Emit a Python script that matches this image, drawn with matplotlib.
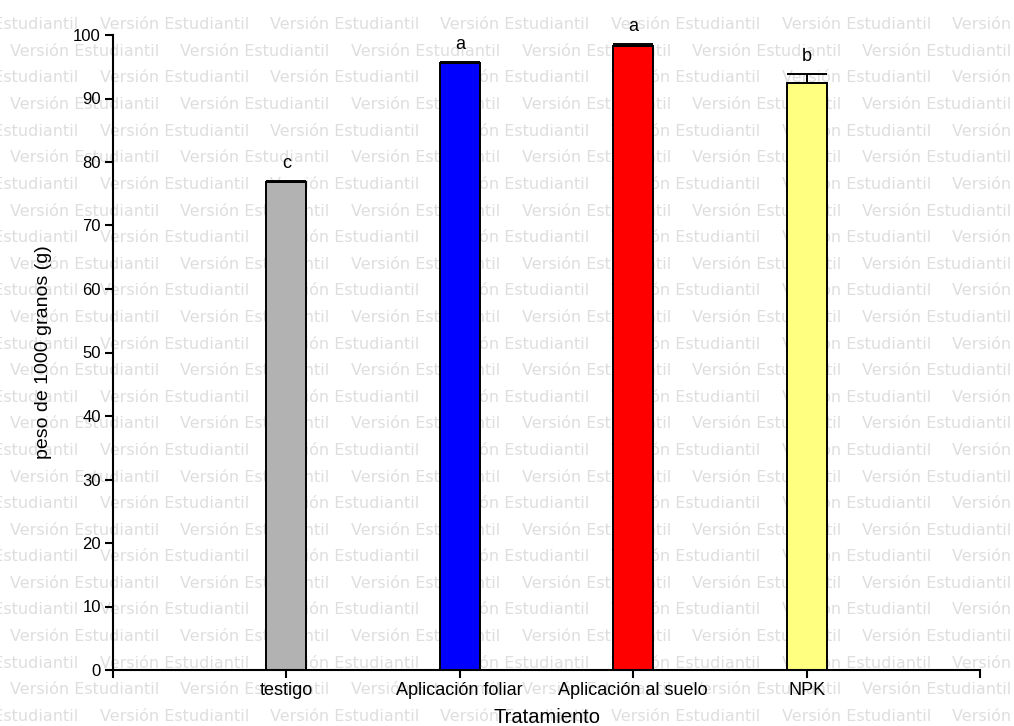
import matplotlib
matplotlib.use("Agg")
import matplotlib.pyplot as plt

plt.rcParams["font.family"] = ["Liberation Sans", "DejaVu Sans"]

# Peso de 1000 granos por tratamiento
tratamientos = ["testigo", "Aplicación foliar", "Aplicación al suelo", "NPK"]
peso_medio = [76.9, 95.6, 98.2, 92.5]
error_std = [0.1, 0.1, 0.35, 1.4]
letras = ["c", "a", "a", "b"]
colores = ["#b2b2b2", "#0000ff", "#ff0000", "#ffff80"]

W, H = 1014, 726
fig = plt.figure(figsize=(W / 100, H / 100), dpi=100)
fig.patch.set_facecolor("white")
ax = fig.add_axes([113 / W, 1 - 670 / H, (980 - 113) / W, (670 - 35) / H])
ax.set_facecolor("none")
ax.set_zorder(1)

# Marca de agua "Versión Estudiantil" en filas alternas
paso_x = 170.5
paso_y = 26.6
for fila in range(28):
    y = 29.3 + fila * paso_y
    x = 99.5 - paso_x if fila % 2 == 0 else 10
    while x < W:
        fig.text(x / W, 1 - y / H, "Versión Estudiantil", fontsize=11.5,
                 color="#dedede", family="DejaVu Sans",
                 ha="left", va="baseline", zorder=0)
        x += paso_x

# Barras con error estándar (solo hacia arriba) y letras de significancia
pos = list(range(1, len(tratamientos) + 1))
ax.bar(pos, peso_medio, width=0.23, color=colores,
       edgecolor="black", linewidth=1.4, zorder=2)
ax.errorbar(pos, peso_medio, yerr=[[0] * len(pos), error_std], fmt="none",
            ecolor="black", elinewidth=1.4, capsize=14.5, capthick=1.4, zorder=3)
for p, m, e, l in zip(pos, peso_medio, error_std, letras):
    ax.annotate(l, (p, m + e), xytext=(0, 12.5), textcoords="offset points",
                ha="center", va="center", fontsize=13)

# Ejes
ax.set_xlim(0, 5)
ax.set_ylim(0, 100)
ax.set_xticks(range(0, 6))
ax.set_xticklabels([""] + tratamientos + [""])
ax.set_yticks(range(0, 101, 10))
ax.spines[["top", "right"]].set_visible(False)
ax.spines[["left", "bottom"]].set_linewidth(1.5)
ax.tick_params(length=5.8, width=1.5, labelsize=12, pad=3)
ax.tick_params(axis="x", labelsize=13)
ax.set_xlabel("Tratamiento", fontsize=14.5, labelpad=6)
ax.set_ylabel("peso de 1000 granos (g)", fontsize=14, labelpad=15)

fig.savefig("out.png", dpi=100)
